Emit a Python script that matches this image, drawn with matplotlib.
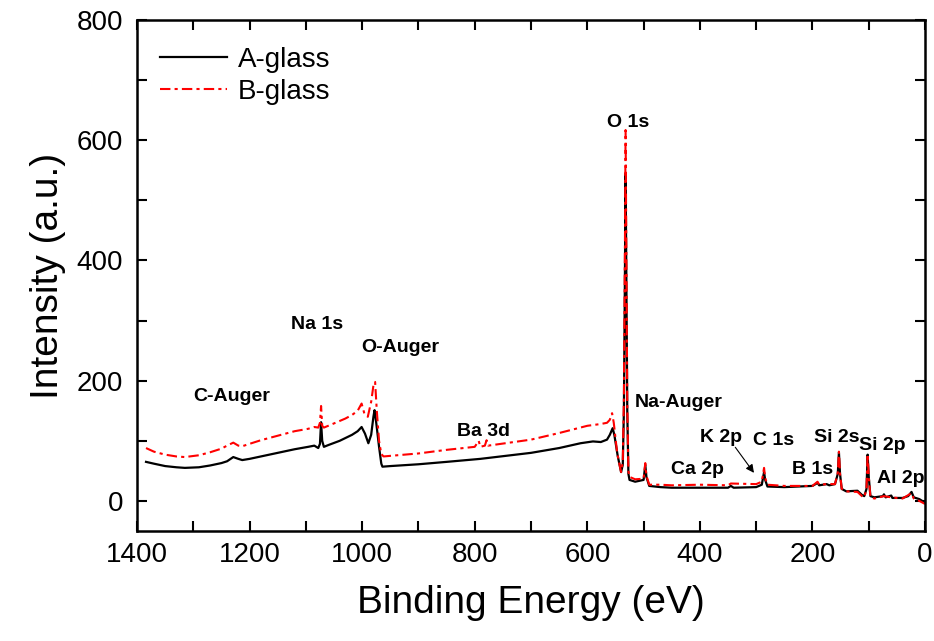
import numpy as np
import matplotlib
matplotlib.use("Agg")
import matplotlib.pyplot as plt

plt.rcParams['font.family'] = ['Liberation Sans', 'DejaVu Sans']

# Espectro A-glass (energía de enlace eV, intensidad u.a.)
be_a = [1384, 1370, 1350, 1330, 1315, 1290, 1270, 1250, 1240, 1229, 1220, 1213,
        1200, 1180, 1160, 1140, 1120, 1096, 1085, 1078, 1075, 1073, 1071, 1068,
        1060, 1040, 1018, 1008, 1001, 995, 989, 984, 980, 978, 975, 970, 966,
        964, 950, 900, 850, 790, 700, 650, 612, 590, 576, 565, 560, 555, 552,
        546, 540, 537, 535, 533, 532, 531, 529, 527, 525, 515, 500, 497, 495,
        490, 470, 450, 400, 350, 345, 340, 300, 290, 286, 284, 280, 250, 200,
        191, 188, 175, 170, 160, 155, 153, 151, 148, 140, 120, 112, 108, 104,
        102, 100, 97, 90, 75, 73, 70, 60, 58, 40, 30, 24, 20, 10, 0]
int_a = [65, 62, 58, 56, 55, 56, 59, 63, 66, 73, 70, 68,
         70, 74, 78, 82, 86, 90, 92, 88, 95, 131, 100, 90,
         93, 100, 110, 116, 123, 112, 96, 110, 140, 151, 130, 90, 62,
         57, 58, 61, 65, 70, 80, 88, 96, 99, 98, 102, 110, 121, 110,
         75, 48, 60, 150, 400, 545, 420, 150, 45, 35, 32, 35, 60, 40,
         25, 23, 22, 22, 22, 25, 22, 23, 27, 48, 35, 24, 23, 25,
         30, 26, 28, 26, 28, 45, 81, 45, 20, 16, 17, 10, 8, 20,
         77, 40, 8, 6, 8, 11, 6, 9, 5, 5, 8, 15, 6, 3, -3]

# Espectro B-glass
be_b = [1384, 1370, 1350, 1330, 1315, 1290, 1270, 1250, 1240, 1229, 1220, 1213,
        1200, 1180, 1160, 1140, 1120, 1096, 1085, 1078, 1075, 1073, 1071, 1068,
        1050, 1030, 1018, 1008, 1001, 996, 990, 984, 980, 977, 974, 970, 966,
        962, 950, 900, 850, 800, 793, 790, 782, 779, 776, 700, 650, 600, 576,
        565, 560, 556, 553, 547, 540, 537, 535, 533, 532, 531, 529, 527, 525,
        515, 500, 497, 495, 490, 470, 450, 400, 350, 345, 300, 290, 286, 284,
        280, 250, 200, 191, 188, 175, 160, 155, 153, 151, 148, 140, 120, 112,
        108, 104, 102, 100, 97, 90, 73, 60, 40, 24, 20, 10, 0]
int_b = [88, 82, 77, 74, 73, 76, 81, 87, 92, 97, 92, 91,
         95, 101, 106, 111, 116, 120, 123, 122, 130, 158, 125, 122,
         129, 137, 143, 150, 162, 145, 140, 165, 192, 198, 150, 100, 78,
         74, 75, 79, 85, 90, 100, 90, 92, 101, 92, 102, 113, 125, 128,
         130, 135, 146, 130, 80, 48, 65, 170, 450, 617, 470, 160, 50, 40,
         36, 37, 63, 42, 27, 27, 26, 27, 26, 29, 28, 32, 55, 38,
         27, 25, 25, 32, 27, 28, 28, 47, 82, 45, 20, 16, 15, 8,
         6, 20, 78, 40, 6, 4, 8, 6, 4, 13, 4, 0, -5]

# Etiquetas de picos: texto, posición (eV, intensidad)
etiquetas = ['C-Auger', 'Na 1s', 'O-Auger', 'Ba 3d', 'O 1s', 'Na-Auger',
             'Ca 2p', 'K 2p', 'C 1s', 'B 1s', 'Si 2s', 'Si 2p', 'Al 2p']
pos_x = [1231, 1081, 932, 784, 528, 438, 404, 363, 269, 199, 156, 76, 43]
pos_y = [173, 294, 256, 116, 629, 163, 52, 105, 100, 52, 106, 93, 37]

fig = plt.figure(figsize=(9.34, 6.41), dpi=100)
ax = fig.add_axes([0.1467, 0.1716, 0.8437, 0.7972])

ax.plot(be_a, int_a, '-', color='black', linewidth=1.6, label='A-glass')
ax.plot(be_b, int_b, color='red', linewidth=1.5, dashes=(5, 2, 1.5, 2),
        label='B-glass')

for txt, x, y in zip(etiquetas, pos_x, pos_y):
    ax.text(x, y, txt, fontsize=14, fontweight='bold', ha='center', va='center')

# flecha de K 2p
ax.annotate('', xy=(301, 43), xytext=(340, 93),
            arrowprops=dict(arrowstyle='-|>', color='black', lw=0.8,
                            mutation_scale=12))

ax.set_xlim(1400, 0)
ax.set_ylim(-50, 800)
ax.set_xticks(np.arange(0, 1401, 200))
ax.set_xticks(np.arange(100, 1400, 200), minor=True)
ax.set_yticks(np.arange(0, 801, 200))
ax.set_yticks(np.arange(100, 800, 200), minor=True)
ax.tick_params(which='both', direction='in', top=True, right=True,
               length=7, width=1.5, labelsize=20)
ax.tick_params(axis='x', pad=8)
ax.tick_params(axis='y', pad=10)
for s in ax.spines.values():
    s.set_linewidth(1.8)

ax.set_xlabel('Binding Energy (eV)', fontsize=28, labelpad=12)
ax.set_ylabel('Intensity (a.u.)', fontsize=28, labelpad=8)

ax.legend(loc='upper left', frameon=False, fontsize=20, handlelength=2.4,
          borderaxespad=0.3, labelspacing=0.2, handletextpad=0.4,
          bbox_to_anchor=(0.005, 0.985))

fig.savefig('out.png', dpi=100)
